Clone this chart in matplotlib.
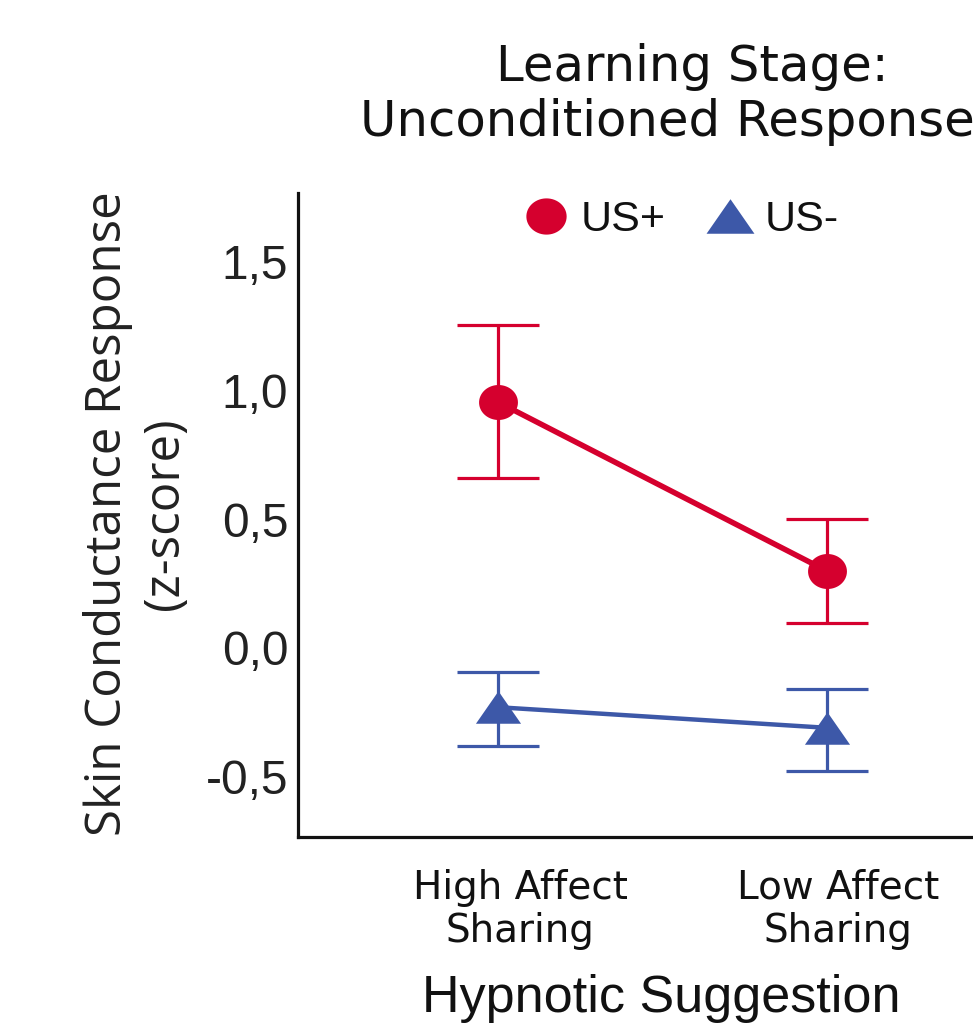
import numpy as np
import matplotlib
matplotlib.use("Agg")
import matplotlib.pyplot as plt
from matplotlib.transforms import ScaledTranslation
from matplotlib.ticker import FuncFormatter
from matplotlib.lines import Line2D

# Group means with 95% CI bounds (z-scored skin conductance)
conditions = ["High Affect\nSharing", "Low Affect\nSharing"]
series_names = ["US+", "US-"]
us_plus_mean = [0.955, 0.299]
us_plus_lower = [0.660, 0.097]
us_plus_upper = [1.254, 0.501]
us_minus_mean = [-0.23, -0.31]
us_minus_lower = [-0.381, -0.478]
us_minus_upper = [-0.093, -0.159]
y_ticks = [-0.5, 0.0, 0.5, 1.0, 1.5]

RED = "#D5002E"
BLUE = "#3D58A8"

W, H, DPI = 973, 1028, 100
fig = plt.figure(figsize=(W / DPI, H / DPI), dpi=DPI)
fig.patch.set_facecolor("white")

ax = fig.add_axes([298 / W, 1 - 837 / H, 729 / W, (837 - 193) / H])
ax.set_xlim(-0.608, 1.608)
ax.set_ylim(-0.734, 1.767)

# Slightly wide ellipse used as the circular marker
t = np.linspace(0, 2 * np.pi, 60)
ellipse = list(zip(np.cos(t), 0.9 * np.sin(t)))
triangle = [(0, 0.72), (-1, -0.72), (1, -0.72), (0, 0.72)]

x = np.arange(len(conditions))


def draw_series(mean, lower, upper, color, marker, msize, lw):
    mean = np.asarray(mean)
    yerr = np.vstack([mean - np.asarray(lower), np.asarray(upper) - mean])
    ax.errorbar(x, mean, yerr=yerr, fmt="none", ecolor=color,
                elinewidth=2.3, capsize=29.5, capthick=2.3, zorder=2)
    ax.plot(x, mean, color=color, lw=lw, zorder=3,
            solid_capstyle="round")
    ax.plot(x, mean, linestyle="none", marker=marker, markersize=msize,
            color=color, markeredgewidth=0, zorder=4)


draw_series(us_plus_mean, us_plus_lower, us_plus_upper, RED, ellipse, 28, 4.0)
draw_series(us_minus_mean, us_minus_lower, us_minus_upper, BLUE, triangle, 32.5, 3.2)

# Axes styling
for side in ("top", "right"):
    ax.spines[side].set_visible(False)
for side in ("left", "bottom"):
    ax.spines[side].set_linewidth(2.3)
    ax.spines[side].set_color("#111111")

ax.set_yticks(y_ticks)
ax.yaxis.set_major_formatter(FuncFormatter(lambda v, p: f"{v:.1f}".replace(".", ",")))
ax.tick_params(axis="y", length=0, pad=7, labelsize=34.5, labelcolor="#222222")
for lbl in ax.get_yticklabels():
    lbl.set_fontfamily("Liberation Sans")

ax.set_xticks(x)
ax.set_xticklabels(conditions, fontfamily="DejaVu Sans", fontsize=28,
                   linespacing=1.16, color="#111111")
ax.tick_params(axis="x", length=0, pad=23)
for lbl, dx in zip(ax.get_xticklabels(), [22, 11]):
    lbl.set_transform(lbl.get_transform() + ScaledTranslation(dx / DPI, 0, fig.dpi_scale_trans))

# Legend
handles = [
    Line2D([], [], linestyle="none", marker=ellipse, markersize=29,
           color=RED, markeredgewidth=0),
    Line2D([], [], linestyle="none", marker=triangle, markersize=34.5,
           color=BLUE, markeredgewidth=0),
]
leg = ax.legend(handles, series_names, loc="center", ncol=2,
                bbox_to_anchor=(0.527, 0.958), frameon=False,
                prop={"family": "Liberation Sans", "size": 31},
                handlelength=0.95, handletextpad=0.33, columnspacing=1.0,
                borderpad=0, borderaxespad=0)
for txt in leg.get_texts():
    txt.set_color("#111111")

# Titles and axis labels
fig.text(692 / W, 1 - 81 / H, "Learning Stage:", ha="center", va="baseline",
         fontfamily="DejaVu Sans", fontsize=35.8, color="#111111")
fig.text(360 / W, 1 - 136 / H, "Unconditioned Response", ha="left", va="baseline",
         fontfamily="DejaVu Sans", fontsize=35.8, color="#111111")
fig.text(661 / W, 1 - 1012 / H, "Hypnotic Suggestion", ha="center", va="baseline",
         fontfamily="Liberation Sans", fontsize=37.5, color="#111111")
fig.text(137 / W, 1 - 514 / H, "Skin Conductance Response\n(z-score)",
         ha="center", va="center", rotation=90, multialignment="center",
         fontfamily="Open Sans", fontsize=35.5, linespacing=1.2, color="#222222")

fig.savefig("out.png", dpi=DPI, facecolor="white")
